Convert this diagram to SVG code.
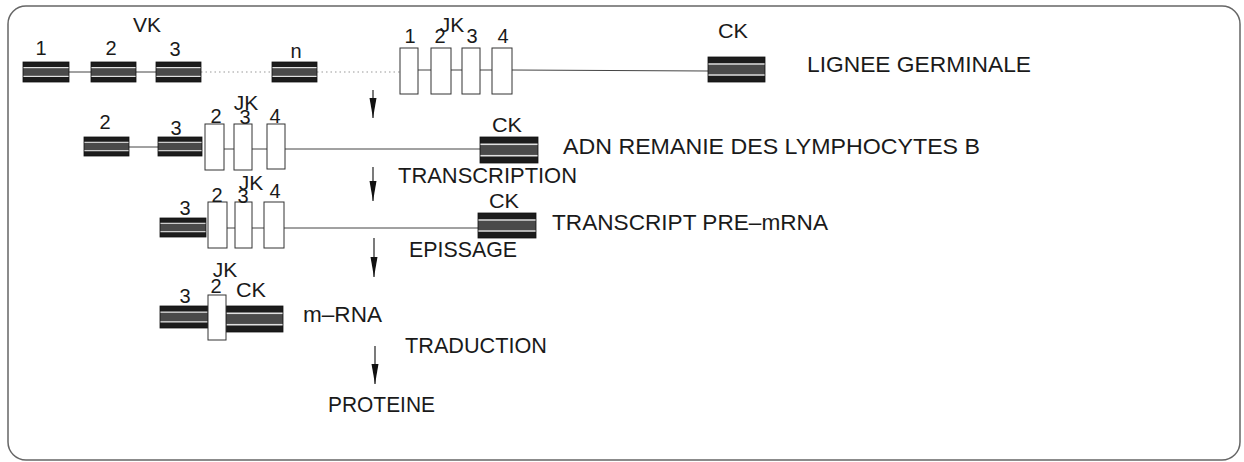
<svg xmlns="http://www.w3.org/2000/svg" width="1244" height="462" viewBox="0 0 1244 462">
<style>
  text { font-family: "Liberation Sans", Arial, sans-serif; fill: #1a1a1a; }
  .num { font-size: 20px; text-anchor: middle; }
  .gene { font-size: 21px; text-anchor: middle; }
  .lbl { font-size: 22px; }
  .white { fill: #ffffff; stroke: #333; stroke-width: 1; }
  .dark { fill: url(#band); stroke: #111; stroke-width: 0.8; }
  .intron { stroke: #444; stroke-width: 1; fill: none; }
  .dotted { stroke: #999; stroke-width: 1.2; stroke-dasharray: 1.5 3; fill: none; }
  .arrow { stroke: #222; stroke-width: 1.2; fill: none; marker-end: url(#head); }
</style>
<defs>
  <pattern id="band" width="1" height="1" patternContentUnits="objectBoundingBox">
    <rect x="0" y="0" width="1" height="1" fill="#1c1c1c"/>
    <rect x="0" y="0.3" width="1" height="0.4" fill="#4a4a4a"/>
    <rect x="0" y="0.25" width="1" height="0.06" fill="#e0e0e0"/>
    <rect x="0" y="0.69" width="1" height="0.06" fill="#e0e0e0"/>
  </pattern>
  <marker id="head" markerUnits="userSpaceOnUse" markerWidth="20" markerHeight="8" viewBox="0 -4 20 8" refX="20" refY="0" orient="auto">
    <path d="M0,-3.5 L20,0 L0,3.5 z" fill="#111"/>
  </marker>
</defs>

<rect id="frame" x="8" y="6" width="1232" height="454" rx="18" fill="none" stroke="#666" stroke-width="1.5"/>

<g id="connectors">
  <!-- row 1 -->
  <line class="intron" x1="69" y1="72" x2="91" y2="72"/>
  <line class="intron" x1="136" y1="72" x2="156" y2="72"/>
  <line class="dotted" x1="201" y1="72" x2="272" y2="72"/>
  <line class="dotted" x1="317" y1="72" x2="400" y2="72"/>
  <line class="intron" x1="418" y1="70" x2="431" y2="70"/>
  <line class="intron" x1="451" y1="70" x2="462" y2="70"/>
  <line class="intron" x1="480" y1="70" x2="492" y2="70"/>
  <line class="intron" x1="512" y1="70" x2="708" y2="71"/>
  <!-- row 2 -->
  <line class="intron" x1="129" y1="147" x2="158" y2="147"/>
  <line class="intron" x1="224" y1="149" x2="234" y2="149"/>
  <line class="intron" x1="252" y1="149" x2="267" y2="149"/>
  <line class="intron" x1="285" y1="149" x2="480" y2="149"/>
  <!-- row 3 -->
  <line class="intron" x1="227" y1="228" x2="235" y2="228"/>
  <line class="intron" x1="252" y1="228" x2="264" y2="228"/>
  <line class="intron" x1="284" y1="228" x2="478" y2="228"/>
  <!-- process arrows -->
  <line class="arrow" x1="373" y1="90" x2="373" y2="118"/>
  <line class="arrow" x1="373" y1="167" x2="373" y2="201"/>
  <line class="arrow" x1="374" y1="238" x2="374" y2="277"/>
  <line class="arrow" x1="375" y1="346" x2="375" y2="384"/>
</g>

<!-- Row 1: germline -->
<g id="germ-VK-title"><text class="gene" x="147" y="32">VK</text></g>
<g id="germ-V1"><rect class="dark" x="23" y="62" width="46" height="20"/><text class="num" x="41" y="55">1</text></g>
<g id="germ-V2"><rect class="dark" x="91" y="62" width="45" height="20"/><text class="num" x="111" y="55">2</text></g>
<g id="germ-V3"><rect class="dark" x="156" y="62" width="45" height="20"/><text class="num" x="175" y="56">3</text></g>
<g id="germ-Vn"><rect class="dark" x="272" y="62" width="45" height="20"/><text class="num" x="296" y="58">n</text></g>
<g id="germ-JK-title"><text class="gene" x="452" y="32" font-size="20">JK</text></g>
<g id="germ-J1"><rect class="white" x="400" y="48" width="18" height="46"/><text class="num" x="410" y="43">1</text></g>
<g id="germ-J2"><rect class="white" x="431" y="48" width="20" height="46"/><text class="num" x="440" y="43">2</text></g>
<g id="germ-J3"><rect class="white" x="462" y="48" width="18" height="46"/><text class="num" x="472" y="43">3</text></g>
<g id="germ-J4"><rect class="white" x="492" y="48" width="20" height="46"/><text class="num" x="503" y="43">4</text></g>
<g id="germ-CK"><rect class="dark" x="708" y="57" width="57" height="25"/><text class="gene" x="733" y="38" textLength="30" lengthAdjust="spacingAndGlyphs">CK</text></g>
<g id="label-germinale"><text class="lbl" x="807" y="72" font-size="23" textLength="224" lengthAdjust="spacingAndGlyphs">LIGNEE GERMINALE</text></g>

<!-- Row 2: rearranged DNA -->
<g id="dna-V2"><rect class="dark" x="84" y="137" width="45" height="19"/><text class="num" x="105" y="129">2</text></g>
<g id="dna-V3"><rect class="dark" x="158" y="137" width="44" height="19"/><text class="num" x="176" y="135">3</text></g>
<g id="dna-JK-title"><text class="gene" x="246" y="110" font-size="20">JK</text></g>
<g id="dna-J2"><rect class="white" x="205" y="124" width="19" height="46"/><text class="num" x="216" y="123">2</text></g>
<g id="dna-J3"><rect class="white" x="234" y="124" width="18" height="46"/><text class="num" x="245" y="124">3</text></g>
<g id="dna-J4"><rect class="white" x="267" y="124" width="18" height="45"/><text class="num" x="275" y="123">4</text></g>
<g id="dna-CK"><rect class="dark" x="480" y="137" width="58" height="26"/><text class="gene" x="507" y="132" textLength="30" lengthAdjust="spacingAndGlyphs">CK</text></g>
<g id="label-adn"><text class="lbl" x="563" y="154" font-size="21" textLength="417" lengthAdjust="spacingAndGlyphs">ADN REMANIE DES LYMPHOCYTES B</text></g>
<g id="label-transcription"><text class="lbl" x="398" y="183" textLength="179" lengthAdjust="spacingAndGlyphs">TRANSCRIPTION</text></g>

<!-- Row 3: pre-mRNA -->
<g id="pre-V3"><rect class="dark" x="160" y="218" width="46" height="19"/><text class="num" x="185" y="215">3</text></g>
<g id="pre-JK-title"><text class="gene" x="251" y="190" font-size="20">JK</text></g>
<g id="pre-J2"><rect class="white" x="208" y="202" width="19" height="46"/><text class="num" x="217" y="202">2</text></g>
<g id="pre-J3"><rect class="white" x="235" y="202" width="17" height="46"/><text class="num" x="243" y="203">3</text></g>
<g id="pre-J4"><rect class="white" x="264" y="202" width="20" height="46"/><text class="num" x="275" y="198">4</text></g>
<g id="pre-CK"><rect class="dark" x="478" y="213" width="58" height="25"/><text class="gene" x="504" y="208" textLength="30" lengthAdjust="spacingAndGlyphs">CK</text></g>
<g id="label-premrna"><text class="lbl" x="552" y="230" textLength="276" lengthAdjust="spacingAndGlyphs">TRANSCRIPT PRE–mRNA</text></g>
<g id="label-epissage"><text class="lbl" x="409" y="257" textLength="108" lengthAdjust="spacingAndGlyphs">EPISSAGE</text></g>

<!-- Row 4: mRNA -->
<g id="m-V3"><rect class="dark" x="160" y="306" width="48" height="22"/><text class="num" x="185" y="303">3</text></g>
<g id="m-CK"><rect class="dark" x="226" y="306" width="57" height="26"/><text class="gene" x="251" y="297" textLength="30" lengthAdjust="spacingAndGlyphs">CK</text></g>
<g id="m-J2"><rect class="white" x="208" y="295" width="18" height="45"/><text class="num" x="216" y="293">2</text></g>
<g id="m-JK-title"><text class="gene" x="225" y="277" font-size="20">JK</text></g>
<g id="label-mrna"><text class="lbl" x="303" y="322" textLength="79" lengthAdjust="spacingAndGlyphs">m–RNA</text></g>
<g id="label-traduction"><text class="lbl" x="405" y="353" textLength="142" lengthAdjust="spacingAndGlyphs">TRADUCTION</text></g>
<g id="label-proteine"><text class="lbl" x="328" y="412" textLength="107" lengthAdjust="spacingAndGlyphs">PROTEINE</text></g>
</svg>
